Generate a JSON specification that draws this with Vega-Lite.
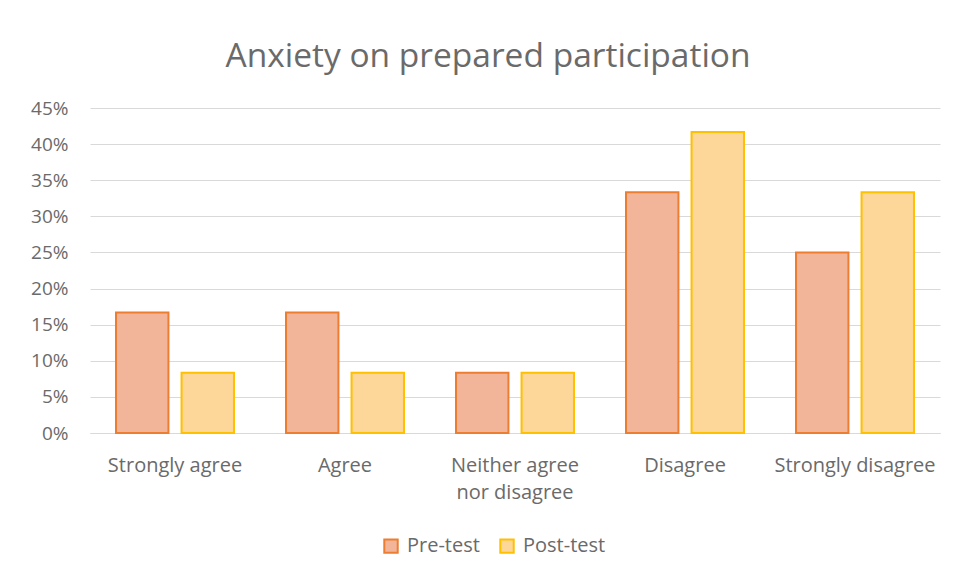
{
  "$schema": "https://vega.github.io/schema/vega-lite/v6.json",
  "autosize": {"type": "none"},
  "width": 850,
  "height": 325,
  "padding": {"left": 90, "top": 108, "right": 14, "bottom": 146},
  "background": "white",
  "title": {
    "text": "Anxiety on prepared participation",
    "fontSize": 33.5,
    "font": "Open Sans",
    "fontWeight": "normal",
    "color": "#6A6A6A",
    "anchor": "middle",
    "dx": -27,
    "offset": 25
  },
  "data": {
    "values": [
      {"category": "Strongly agree", "series": "Pre-test", "value": 0.1667},
      {"category": "Strongly agree", "series": "Post-test", "value": 0.0833},
      {"category": "Agree", "series": "Pre-test", "value": 0.1667},
      {"category": "Agree", "series": "Post-test", "value": 0.0833},
      {"category": "Neither agree nor disagree", "series": "Pre-test", "value": 0.0833},
      {"category": "Neither agree nor disagree", "series": "Post-test", "value": 0.0833},
      {"category": "Disagree", "series": "Pre-test", "value": 0.3333},
      {"category": "Disagree", "series": "Post-test", "value": 0.4167},
      {"category": "Strongly disagree", "series": "Pre-test", "value": 0.25},
      {"category": "Strongly disagree", "series": "Post-test", "value": 0.3333}
    ]
  },
  "mark": {"type": "bar", "strokeWidth": 2},
  "encoding": {
    "x": {
      "field": "category",
      "type": "nominal",
      "sort": null,
      "scale": {"paddingInner": 0.306, "paddingOuter": 0.153},
      "axis": {
        "title": null,
        "labelAngle": 0,
        "labelFont": "Open Sans",
        "labelFontSize": 20,
        "labelColor": "#6A6A6A",
        "labelPadding": 32,
        "labelLineHeight": 27,
        "labelBaseline": "middle",
        "ticks": false,
        "domainColor": "#D9D9D9",
        "domainWidth": 1,
        "labelExpr": "datum.label == 'Neither agree nor disagree' ? ['Neither agree', 'nor disagree'] : datum.label"
      }
    },
    "xOffset": {
      "field": "series",
      "type": "nominal",
      "sort": ["Pre-test", "Post-test"],
      "scale": {"paddingInner": 0.2, "paddingOuter": 0}
    },
    "y": {
      "field": "value",
      "type": "quantitative",
      "scale": {"domain": [0, 0.45]},
      "axis": {
        "title": null,
        "values": [0, 0.05, 0.1, 0.15, 0.2, 0.25, 0.3, 0.35, 0.4, 0.45],
        "format": ".0%",
        "labelFont": "Open Sans",
        "labelFontSize": 19,
        "labelColor": "#6A6A6A",
        "labelPadding": 22,
        "ticks": false,
        "domain": false,
        "gridColor": "#D9D9D9",
        "gridWidth": 1
      }
    },
    "fill": {
      "field": "series",
      "type": "nominal",
      "sort": ["Pre-test", "Post-test"],
      "scale": {"domain": ["Pre-test", "Post-test"], "range": ["#F3B599", "#FDD699"]},
      "legend": {
        "title": null,
        "orient": "none",
        "legendX": 291,
        "legendY": 428,
        "direction": "horizontal",
        "symbolType": "square",
        "symbolSize": 180,
        "symbolStrokeWidth": 2,
        "labelFont": "Open Sans",
        "labelFontSize": 20,
        "labelColor": "#6A6A6A",
        "labelOffset": 6,
        "columnPadding": 16
      }
    },
    "stroke": {
      "field": "series",
      "type": "nominal",
      "sort": ["Pre-test", "Post-test"],
      "scale": {"domain": ["Pre-test", "Post-test"], "range": ["#ED7D31", "#FFC000"]}
    }
  },
  "config": {
    "view": {"stroke": null}
  }
}
